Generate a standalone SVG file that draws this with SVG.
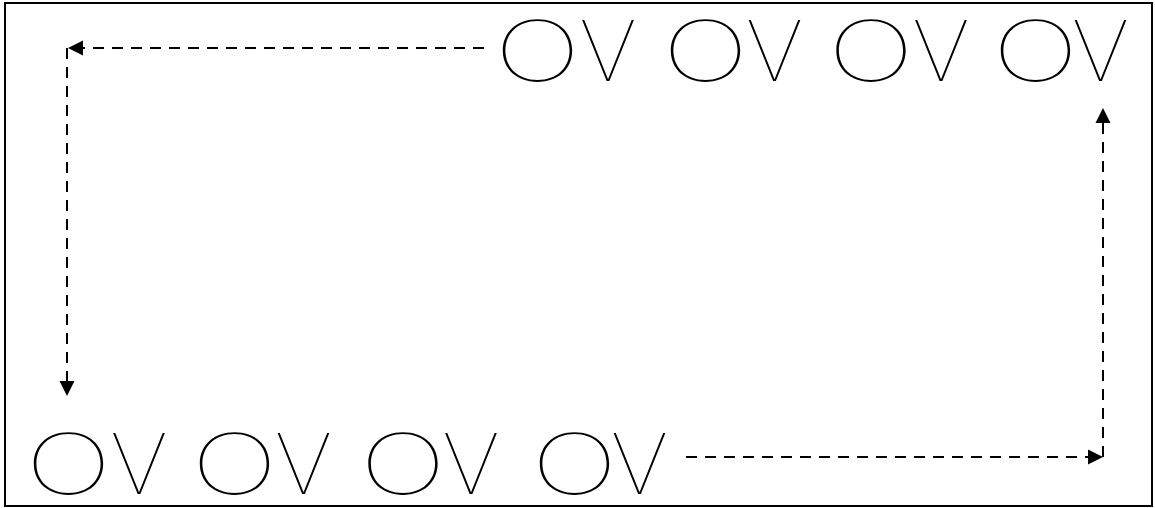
<svg xmlns="http://www.w3.org/2000/svg" width="1155" height="508" viewBox="0 0 1155 508">
<style>
.frame{fill:none;stroke:#000;stroke-width:2}
.glyph{font-family:Inter,"Liberation Sans",sans-serif;font-weight:100;font-size:84px;fill:#000;text-anchor:middle}
.dash{fill:none;stroke:#000;stroke-width:2;stroke-dasharray:11 8}
.head{fill:#000}
</style>
<rect class="frame" x="5" y="3" width="1147" height="503"/>
<g id="top-row">
<g id="t1"><text class="glyph" transform="translate(537.5,81) scale(1.37,1)">O</text><text class="glyph" transform="translate(608,81) scale(1.07,1)">V</text></g>
<g id="t2"><text class="glyph" transform="translate(705.5,81) scale(1.37,1)">O</text><text class="glyph" transform="translate(774.5,81) scale(1.07,1)">V</text></g>
<g id="t3"><text class="glyph" transform="translate(871,81) scale(1.37,1)">O</text><text class="glyph" transform="translate(941,81) scale(1.07,1)">V</text></g>
<g id="t4"><text class="glyph" transform="translate(1035.5,81) scale(1.37,1)">O</text><text class="glyph" transform="translate(1100.5,81) scale(1.07,1)">V</text></g>
</g>
<g id="bottom-row">
<g id="b1"><text class="glyph" transform="translate(68.5,494) scale(1.37,1)">O</text><text class="glyph" transform="translate(139,494) scale(1.07,1)">V</text></g>
<g id="b2"><text class="glyph" transform="translate(234.5,494) scale(1.37,1)">O</text><text class="glyph" transform="translate(303.5,494) scale(1.07,1)">V</text></g>
<g id="b3"><text class="glyph" transform="translate(403,494) scale(1.37,1)">O</text><text class="glyph" transform="translate(471,494) scale(1.07,1)">V</text></g>
<g id="b4"><text class="glyph" transform="translate(574.5,494) scale(1.37,1)">O</text><text class="glyph" transform="translate(639.5,494) scale(1.07,1)">V</text></g>
</g>
<g id="connectors">
<path class="dash" d="M484,48 H83"/>
<polygon class="head" points="68,48 83,40.5 83,55.5"/>
<path class="dash" d="M67,48 V381"/>
<polygon class="head" points="67,396 59.5,381 74.5,381"/>
<path class="dash" d="M686,457 H1088"/>
<polygon class="head" points="1103,457 1088,449.5 1088,464.5"/>
<path class="dash" d="M1103,457 V123"/>
<polygon class="head" points="1103,108 1095.5,123 1110.5,123"/>
</g>
</svg>
